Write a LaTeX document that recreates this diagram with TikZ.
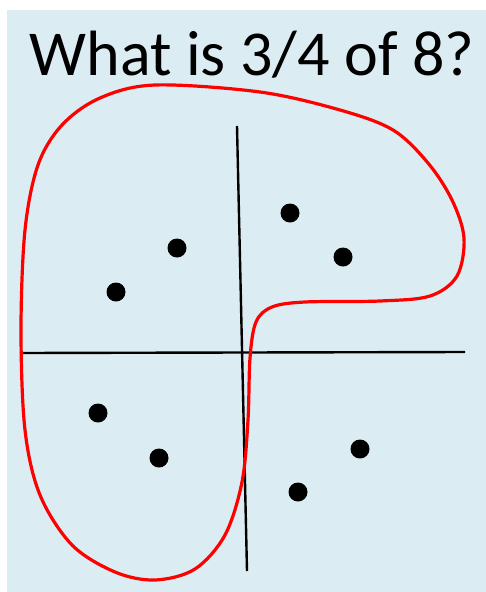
\documentclass[tikz,border=0pt]{standalone}
\usepackage{fontspec}
\setmainfont{Carlito}
\usetikzlibrary{positioning}
\definecolor{slidebg}{RGB}{219,237,243}

\begin{document}
\begin{tikzpicture}[x=1pt, y=-1pt,
    dot/.style={circle, fill=black, inner sep=0pt, minimum size=19pt},
    axis/.style={line width=2.4pt, draw=black},
    loop/.style={line width=3.2pt, draw=red}
  ]
    \useasboundingbox (0,0) rectangle (486,592);
    \fill[slidebg] (7,10) rectangle (486,592);

    \node[font=\fontsize{64}{70}\selectfont, anchor=base, inner sep=0pt] (title) at (252,75) {What is 3/4 of 8?};

    % axes
    \coordinate (ytop) at (237,126);
    \coordinate (ybot) at (247,571);
    \coordinate (xleft) at (20,353);
    \coordinate (xright) at (465,352);
    \draw[axis] (ytop) -- (ybot);
    \draw[axis] (xleft) -- (xright);

    % points
    \node[dot] (d1) at (290,213) {};
    \node[dot] (d2) at (343,257) {};
    \node[dot] (d3) at (177,248) {};
    \node[dot] (d4) at (116,292) {};
    \node[dot] (d5) at (98,413) {};
    \node[dot] (d6) at (159,458) {};
    \node[dot] (d7) at (360,449) {};
    \node[dot] (d8) at (298,492) {};

    % the loop round six of the eight
    \draw[loop] plot[smooth cycle, tension=0.55] coordinates {
      (248,420) (250,358) (256,322) (272,307) (305,302) (380,301)
      (430,296) (457,276) (464,238) (452,200) (428,163) (393,130)
      (340,110) (260,92) (155,85) (100,98) (62,125) (38,165)
      (25,230) (21,330) (25,430) (40,495) (72,545) (115,572)
      (155,580) (195,569) (225,535) (242,482)};
  \end{tikzpicture}
\end{document}
